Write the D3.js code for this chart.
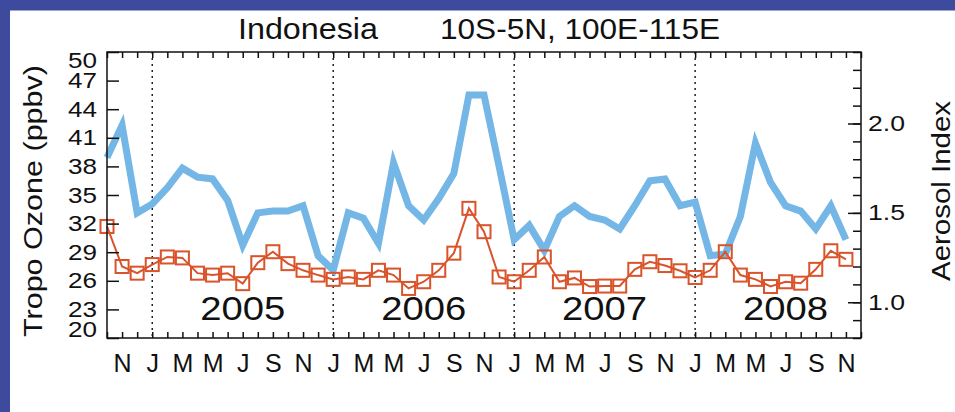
<!DOCTYPE html>
<html><head><meta charset="utf-8">
<script src="https://cdn.jsdelivr.net/npm/d3@7"></script>
<style>
html,body{margin:0;padding:0;background:#fff;}
svg{display:block;}
text{font-family:"Liberation Sans",Arial,Helvetica,sans-serif;fill:#111;}
</style>
</head><body>
<svg id="chart" width="955" height="412"></svg>
<script>
// Monthly series, Oct 2004 .. Nov 2008 (50 months)
const startMonth = new Date(2004, 9, 1);
const months = d3.timeMonth.range(startMonth, new Date(2008, 11, 1));

// Tropospheric ozone (ppbv), left axis
const ozone = [31.7, 27.5, 26.8, 27.7, 28.5, 28.4, 26.8, 26.6, 26.8, 25.7,
               27.9, 29.05, 27.8, 27.1, 26.6, 26.15, 26.4, 26.15, 27.1, 26.6,
               25.2, 25.9, 27.1, 28.9, 33.6, 31.15, 26.4, 25.9, 27.1, 28.5,
               25.9, 26.3, 25.4, 25.45, 25.45, 27.2, 28.0, 27.6, 27.05, 26.35,
               27.1, 29.05, 26.6, 26.15, 25.4, 25.9, 25.75, 27.2, 29.15, 28.25];

// Aerosol index, right axis
const aerosol = [1.81, 1.99, 1.50, 1.55, 1.64, 1.75, 1.70, 1.69, 1.57, 1.32,
                 1.50, 1.51, 1.51, 1.54, 1.26, 1.18, 1.50, 1.47, 1.33, 1.78,
                 1.54, 1.46, 1.58, 1.72, 2.16, 2.16, 1.76, 1.35, 1.43, 1.29,
                 1.48, 1.54, 1.48, 1.46, 1.41, 1.54, 1.68, 1.69, 1.54, 1.56,
                 1.26, 1.27, 1.48, 1.89, 1.67, 1.54, 1.51, 1.41, 1.54, 1.35];

const ozoneTicks = [20, 23, 26, 29, 32, 35, 38, 41, 44, 47, 50];
const aerosolMajorTicks = [1.0, 1.5, 2.0];
const aerosolMinorTicks = d3.range(8, 25).map(d => d / 10);
const monthLetters = ["J","F","M","A","M","J","J","A","S","O","N","D"];
const years = [2005, 2006, 2007, 2008];

const W = 955, H = 412;
const m = {left: 107, right: 861, top: 52, bottom: 338};
const svg = d3.select("#chart");

// frame decoration
svg.append("rect").attr("x", 0).attr("y", 0).attr("width", W).attr("height", 10.5).attr("fill", "#3e4a9e");
svg.append("rect").attr("x", 0).attr("y", 0).attr("width", 10).attr("height", H).attr("fill", "#3e4a9e");

const x = d3.scaleLinear().domain([0, 50]).range([m.left, m.right]);
const y = d3.scaleLinear().domain([20, 50]).range([m.bottom, m.top]);
const yR = d3.scaleLinear().domain([0.8, 2.4]).range([m.bottom, m.top]);

// year boundaries (January of each year)
const janIdx = months.map((d, i) => d.getMonth() === 0 ? i : -1).filter(i => i >= 0);
svg.append("g").selectAll("line").data(janIdx).join("line")
  .attr("x1", d => x(d)).attr("x2", d => x(d))
  .attr("y1", m.top).attr("y2", m.bottom)
  .attr("stroke", "#111").attr("stroke-width", 1.4).attr("stroke-dasharray", "2,4");

// year labels centred between Januaries
svg.append("g").selectAll("text").data(years).join("text")
  .attr("x", d => x(janIdx[years.indexOf(d)] + 6))
  .attr("y", 320)
  .attr("text-anchor", "middle")
  .attr("font-size", 34)
  .attr("textLength", 85).attr("lengthAdjust", "spacingAndGlyphs")
  .text(d => d);

// aerosol index line
svg.append("path")
  .datum(aerosol)
  .attr("fill", "none").attr("stroke", "#74b7e6").attr("stroke-width", 7)
  .attr("stroke-linejoin", "miter")
  .attr("d", d3.line().x((d, i) => x(i)).y(d => yR(d)));

// ozone line with square markers
svg.append("path")
  .datum(ozone)
  .attr("fill", "none").attr("stroke", "#d9532b").attr("stroke-width", 2)
  .attr("d", d3.line().x((d, i) => x(i)).y(d => y(d)));
const sq = 13;
svg.append("g").selectAll("rect").data(ozone).join("rect")
  .attr("x", (d, i) => x(i) - sq / 2).attr("y", d => y(d) - sq / 2)
  .attr("width", sq).attr("height", sq)
  .attr("fill", "none").attr("stroke", "#d9532b").attr("stroke-width", 2);

// axes
const styleAxis = g => {
  g.select(".domain").remove();
  g.selectAll(".tick line").attr("stroke", "#111").attr("stroke-width", 1.5);
};

svg.append("g").attr("transform", `translate(${m.left},0)`)
  .call(d3.axisLeft(y).tickValues(ozoneTicks).tickSize(-12).tickPadding(10))
  .call(styleAxis)
  .call(g => g.selectAll("text").attr("font-size", 22).attr("textLength", 29).attr("lengthAdjust", "spacingAndGlyphs")
    .attr("dy", d => d === 50 ? "0.72em" : d === 20 ? "-0.05em" : "0.32em"));

svg.append("g").attr("transform", `translate(${m.right},0)`)
  .call(d3.axisRight(yR).tickValues(aerosolMinorTicks).tickSize(-8).tickFormat(""))
  .call(styleAxis);
svg.append("g").attr("transform", `translate(${m.right},0)`)
  .call(d3.axisRight(yR).tickValues(aerosolMajorTicks).tickSize(-13).tickPadding(7).tickFormat(d3.format(".1f")))
  .call(styleAxis)
  .call(g => g.selectAll("text").attr("font-size", 22).attr("textLength", 37).attr("lengthAdjust", "spacingAndGlyphs"));

svg.append("g").attr("transform", `translate(0,${m.bottom})`)
  .call(d3.axisBottom(x).tickValues(d3.range(0, 51)).tickSize(-6).tickFormat(""))
  .call(styleAxis);
svg.append("g").attr("transform", `translate(0,${m.top})`)
  .call(d3.axisTop(x).tickValues(d3.range(0, 51)).tickSize(-6).tickFormat(""))
  .call(styleAxis);

// month initials every second month
const labelIdx = d3.range(1, 50, 2);
svg.append("g").attr("transform", `translate(0,${m.bottom})`)
  .call(d3.axisBottom(x).tickValues(labelIdx).tickSize(0).tickPadding(16)
    .tickFormat(i => monthLetters[months[i].getMonth()]))
  .call(styleAxis)
  .call(g => g.selectAll("text").attr("font-size", 25));

// plot frame
svg.append("rect").attr("x", m.left).attr("y", m.top)
  .attr("width", m.right - m.left).attr("height", m.bottom - m.top)
  .attr("fill", "none").attr("stroke", "#111").attr("stroke-width", 1.5);

// axis titles
svg.append("text").attr("transform", `translate(42,${(m.top + m.bottom) / 2 + 6}) rotate(-90)`)
  .attr("text-anchor", "middle").attr("font-size", 25)
  .attr("textLength", 272).attr("lengthAdjust", "spacingAndGlyphs")
  .text("Tropo Ozone (ppbv)");
svg.append("text").attr("transform", `translate(950,${(101 + 281) / 2}) rotate(-90)`)
  .attr("text-anchor", "middle").attr("font-size", 26)
  .attr("textLength", 180).attr("lengthAdjust", "spacingAndGlyphs")
  .text("Aerosol Index");

// title
svg.append("text").attr("x", 238).attr("y", 39).attr("font-size", 29)
  .attr("textLength", 140).attr("lengthAdjust", "spacingAndGlyphs").text("Indonesia");
svg.append("text").attr("x", 440).attr("y", 39).attr("font-size", 29)
  .attr("textLength", 280).attr("lengthAdjust", "spacingAndGlyphs").text("10S-5N, 100E-115E");
</script>
</body></html>
